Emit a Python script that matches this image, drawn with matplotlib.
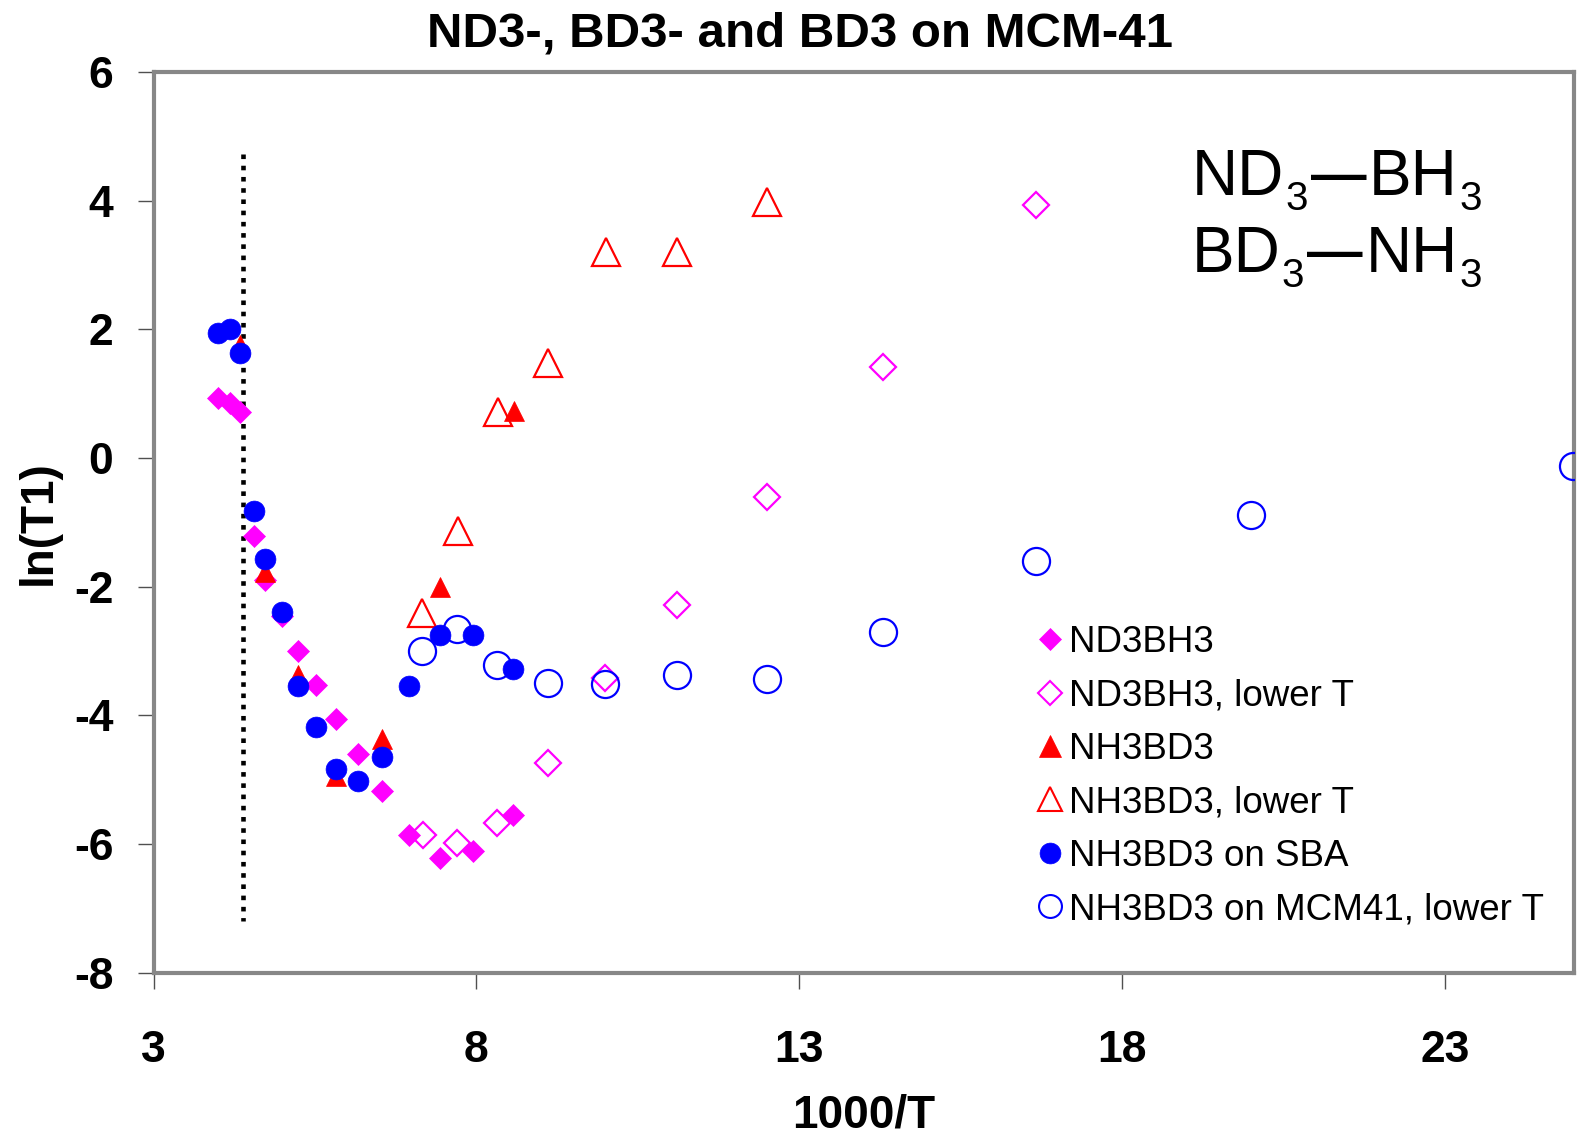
import matplotlib
matplotlib.use("Agg")
import matplotlib.pyplot as plt
from matplotlib.lines import Line2D

plt.rcParams['font.family'] = ['Liberation Sans', 'DejaVu Sans']

# ---------------- data ----------------
nd3bh3_x = [3.99, 4.18, 4.34, 4.55, 4.73, 4.98, 5.23, 5.52, 5.82, 6.16, 6.53, 6.96, 7.43, 7.95, 8.57]
nd3bh3_y = [0.94, 0.85, 0.72, -1.21, -1.90, -2.45, -3.00, -3.53, -4.06, -4.60, -5.17, -5.86, -6.22, -6.11, -5.55]

nd3bh3_low_x = [7.17, 7.70, 8.32, 9.10, 9.99, 11.10, 12.50, 14.29, 16.67]
nd3bh3_low_y = [-5.86, -5.98, -5.67, -4.74, -3.42, -2.29, -0.60, 1.42, 3.94]

nh3bd3_x = [4.34, 4.73, 5.23, 5.82, 6.53, 7.43, 8.58]
nh3bd3_y = [1.75, -1.77, -3.37, -4.95, -4.37, -2.01, 0.73]

nh3bd3_low_x = [7.15, 7.71, 8.33, 9.10, 10.00, 11.10, 12.50]
nh3bd3_low_y = [-2.41, -1.14, 0.72, 1.47, 3.20, 3.20, 3.98]

sba_x = [3.99, 4.18, 4.34, 4.55, 4.73, 4.98, 5.23, 5.51, 5.82, 6.16, 6.53, 6.96, 7.43, 7.95, 8.57]
sba_y = [1.94, 2.01, 1.63, -0.82, -1.57, -2.40, -3.55, -4.18, -4.83, -5.02, -4.64, -3.55, -2.75, -2.75, -3.28]

mcm_low_x = [7.15, 7.70, 8.32, 9.10, 9.99, 11.10, 12.50, 14.29, 16.67, 19.99, 24.98]
mcm_low_y = [-3.00, -2.66, -3.22, -3.49, -3.51, -3.37, -3.43, -2.70, -1.60, -0.89, -0.13]

vline_x = [4.38, 4.38]
vline_y = [4.73, -7.20]

labels = ["ND3BH3", "ND3BH3, lower T", "NH3BD3", "NH3BD3, lower T",
          "NH3BD3 on SBA", "NH3BD3 on MCM41, lower T"]
xticks = [3, 8, 13, 18, 23]
yticks = [-8, -6, -4, -2, 0, 2, 4, 6]

formula_lines = [
    [("ND", "main"), ("3", "sub"), ("—", "bond"), ("BH", "main"), ("3", "sub")],
    [("BD", "main"), ("3", "sub"), ("—", "bond"), ("NH", "main"), ("3", "sub")],
]

MAG = '#FF00FF'
RED = '#FF0000'
BLUE = '#0000FF'

W, H = 1593, 1143
fig = plt.figure(figsize=(W / 100, H / 100), dpi=100)
ax = fig.add_axes([153.7 / W, 1 - 972.7 / H, (1574 - 153.7) / W, (972.7 - 72) / H])

# open (lower T) series first, filled on top
ax.plot(nd3bh3_low_x, nd3bh3_low_y, ls='none', marker='D', ms=13.5, mfc='none', mec=MAG, mew=1.6, zorder=3)
ax.plot(nh3bd3_low_x, nh3bd3_low_y, ls='none', marker='^', ms=20.5, mfc='none', mec=RED, mew=1.6, zorder=3)
ax.plot(mcm_low_x, mcm_low_y, ls='none', marker='o', ms=19.5, mfc='none', mec=BLUE, mew=1.6, zorder=3)
ax.plot(nd3bh3_x, nd3bh3_y, ls='none', marker='D', ms=11.0, mfc=MAG, mec=MAG, mew=0.5, zorder=4)
ax.plot(nh3bd3_x, nh3bd3_y, ls='none', marker='^', ms=15.0, mfc=RED, mec=RED, mew=0.5, zorder=5)
ax.plot(sba_x, sba_y, ls='none', marker='o', ms=15.0, mfc=BLUE, mec=BLUE, mew=0.5, zorder=6)

ax.plot(vline_x, vline_y, color='black', linewidth=3.3,
        linestyle=(0, (1.0, 1.45)), dash_capstyle='butt', zorder=2)

ax.set_xlim(3, 25)
ax.set_ylim(-8, 6)
ax.set_xticks(xticks)
ax.set_yticks(yticks)
ax.set_xticklabels([str(t) for t in xticks])
ax.set_yticklabels([str(t) for t in yticks])

for s in ax.spines.values():
    s.set_color('#878787')
    s.set_linewidth(3.0)

ax.tick_params(axis='both', direction='out', length=11.5, width=1.0, color='#505050',
               labelsize=32)
ax.tick_params(axis='y', pad=17.5)
ax.tick_params(axis='x', pad=29.5)
for lab in ax.get_xticklabels() + ax.get_yticklabels():
    lab.set_fontweight('bold')

ax.set_xlabel('1000/T', fontsize=33, fontweight='bold', va='baseline')
ax.xaxis.set_label_coords(0.5, (972.7 - 1128) / 900.7)
ax.set_ylabel('ln(T1)', fontsize=33, fontweight='bold', va='center')
ax.yaxis.set_label_coords((38.6 - 153.7) / 1420.3, 0.5)

fig.text(800 / W, 1 - 47 / H, 'ND3-, BD3- and BD3 on MCM-41', ha='center', va='baseline',
         fontsize=35.5, fontweight='bold')

# chemical formula drawn piece by piece (subscripts dropped below baseline)
renderer = fig.canvas.get_renderer()
styles = {
    "main": dict(fontsize=46, fontweight='normal', dy=0, gap=0),
    "sub": dict(fontsize=29, fontweight='normal', dy=-15.5, gap=1),
    "bond": dict(fontsize=40, fontweight='bold', dy=3, gap=3),
}
baselines = [195, 271.7]
x0_px = 1192
for line, base in zip(formula_lines, baselines):
    xpos = x0_px
    prev = None
    for txt, kind in line:
        st = styles[kind]
        if prev is not None:
            xpos += max(st['gap'], styles[prev]['gap'])
        t = fig.text(xpos / W, 1 - (base - st['dy']) / H, txt, ha='left', va='baseline',
                     fontsize=st['fontsize'], fontweight=st['fontweight'])
        bb = t.get_window_extent(renderer)
        xpos += bb.width
        prev = kind

handles = [
    Line2D([], [], ls='none', marker='D', ms=11.0, mfc=MAG, mec=MAG, mew=0.5),
    Line2D([], [], ls='none', marker='D', ms=12.0, mfc='none', mec=MAG, mew=1.5),
    Line2D([], [], ls='none', marker='^', ms=15.5, mfc=RED, mec=RED, mew=0.5),
    Line2D([], [], ls='none', marker='^', ms=17.0, mfc='none', mec=RED, mew=1.5),
    Line2D([], [], ls='none', marker='o', ms=15.0, mfc=BLUE, mec=BLUE, mew=0.5),
    Line2D([], [], ls='none', marker='o', ms=16.5, mfc='none', mec=BLUE, mew=1.5),
]
leg = ax.legend(handles, labels, loc='upper left', frameon=False, fontsize=26.5,
                handlelength=0.8, handletextpad=0.12, labelspacing=0.5,
                borderpad=0, borderaxespad=0,
                bbox_to_anchor=(1035 / W, 1 - 625 / H), bbox_transform=fig.transFigure)

fig.savefig('out.png', dpi=100)
